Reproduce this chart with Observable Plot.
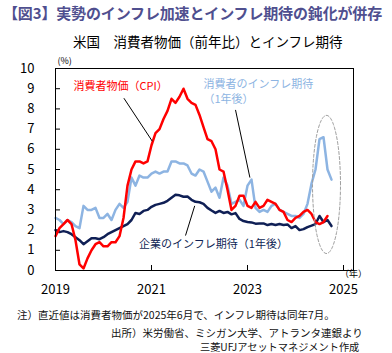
<!DOCTYPE html>
<html><head><meta charset="utf-8">
<script src="https://cdn.jsdelivr.net/npm/d3@7"></script>
<script src="https://cdn.jsdelivr.net/npm/@observablehq/plot@0.6"></script>
<style>
body{margin:0;width:392px;height:353px;position:relative;background:#fff;font-family:"Noto Sans CJK JP",sans-serif;overflow:hidden}
.t{position:absolute;white-space:nowrap;line-height:1}
#title{left:3px;top:5px;font-size:15px;font-weight:bold;color:#4f4f8f;letter-spacing:-0.15px}
#sub{left:73px;top:35px;font-size:13.5px;color:#000}
#chart{position:absolute;left:0;top:50px}
.fn{font-size:10.5px;color:#111}
#n1{left:17px;top:310px}
#n2{left:111px;top:328px}
#n3{left:200px;top:342px;font-size:10.2px}
</style></head>
<body>
<div class="t" id="title">【図3】実勢のインフレ加速とインフレ期待の鈍化が併存</div>
<div class="t" id="sub">米国　消費者物価（前年比）とインフレ期待</div>
<div id="chart"></div>
<div class="t fn" id="n1">注）直近値は消費者物価が2025年6月で、インフレ期待は同年7月。</div>
<div class="t fn" id="n2">出所）米労働省、ミシガン大学、アトランタ連銀より</div>
<div class="t fn" id="n3">三菱UFJアセットマネジメント作成</div>
<script>
// Monthly data, index 0 = 2019-10
const startMonth = "2019-10";
const cpi = [1.7,2.1,2.3,2.5,2.3,1.5,0.3,0.1,0.6,1.0,
  1.3,1.4,1.2,1.2,1.4,1.4,1.7,2.6,4.2,5.0,
  5.4,5.4,5.3,5.4,6.2,6.8,7.0,7.5,7.9,8.5,
  8.3,8.6,9.0,8.5,8.3,8.2,7.7,7.1,6.5,6.4,
  6.0,5.0,4.9,4.0,3.0,3.2,3.7,3.7,3.2,3.1,
  3.4,3.1,3.2,3.5,3.4,3.3,3.0,2.9,2.5,2.4,
  2.6,2.7,2.9,3.0,2.8,2.4,2.3,2.4,2.7];
const consumerExp = [2.6,2.5,2.3,2.5,2.4,2.2,2.1,3.2,3.0,3.0,
  3.1,2.6,2.6,2.8,2.5,3.0,3.3,3.1,3.4,4.6,
  4.2,4.7,4.6,4.6,4.8,4.9,4.8,4.9,4.9,5.4,
  5.4,5.3,5.3,5.2,4.8,4.7,5.0,4.9,4.4,3.9,
  4.1,3.6,4.6,4.2,3.3,3.4,3.5,3.2,4.2,4.5,
  3.1,2.9,3.0,2.9,3.2,3.3,3.0,2.9,2.8,2.7,
  2.7,2.6,2.8,3.3,4.3,5.0,6.5,6.6,5.0,4.5];
const businessExp = [2.0,1.9,1.95,1.9,1.8,1.65,1.5,1.3,1.45,1.6,
  1.6,1.55,1.65,1.8,1.9,2.0,2.1,2.2,2.3,2.5,
  2.85,2.8,2.95,3.0,3.15,3.25,3.3,3.35,3.45,3.6,
  3.75,3.72,3.65,3.66,3.5,3.4,3.38,3.3,3.1,2.97,
  2.85,2.95,2.85,2.9,2.78,2.84,2.55,2.45,2.4,2.38,
  2.32,2.33,2.33,2.25,2.3,2.25,2.3,2.25,2.28,2.1,
  2.2,2.0,2.05,2.15,2.22,2.3,2.7,2.4,2.5,2.2];
const xTickIndex = [0,24,48,72];
const xTickLabels = ["2019","2021","2023","2025"];
const yTicks = [0,1,2,3,4,5,6,7,8,9,10];
const colors = {cpi:"#ff0000", consumer:"#8db4e2", business:"#0f1f55"};
// annotations (data coordinates: month index, %)
const centeredLabels = [
  {i:16.3, v:9.1, text:"消費者物価（CPI）", color:colors.cpi},
  {i:39.5, v:1.27, text:"企業のインフレ期待（1年後）", color:colors.business}
];
const startLabels = [
  {i:37.0, v:9.2, text:"消費者のインフレ期待", color:colors.consumer},
  {i:37.0, v:8.45, text:"（1年後）", color:colors.consumer}
];
const arrows = [
  {i1:17.1, v1:8.53, i2:24.2, v2:6.4},
  {i1:45.0, v1:7.95, i2:48.6, v2:4.6},
  {i1:32.5, v1:1.73, i2:34.8, v2:3.2}
];
const ellipse = {cx:67.75, cy:4.26, rx:3.5, ry:3.42};

const toRows = arr => arr.map((v,i)=>({i, v}));
const ellPts = d3.range(0, 361, 4).map(a => ({
  i: ellipse.cx + ellipse.rx*Math.cos(a*Math.PI/180),
  v: ellipse.cy + ellipse.ry*Math.sin(a*Math.PI/180)}));

const chart = Plot.plot({
  width:392, height:250,
  marginTop:18, marginRight:39, marginBottom:30, marginLeft:55,
  style:{fontFamily:'"Noto Sans CJK JP", sans-serif', fontSize:"13px", background:"transparent", color:"#000"},
  x:{domain:[0,74.5]},
  y:{domain:[0,10]},
  marks:[
    Plot.axisY({ticks:yTicks, tickSize:0, tickPadding:21, fontSize:13, label:null, tickFormat:d=>String(d)}),
    Plot.axisY({ticks:yTicks, tickSize:-5, tickFormat:()=> null, label:null}),
    Plot.axisX({ticks:xTickIndex, tickSize:0, tickPadding:14, fontSize:13, label:null,
      tickFormat:d=>xTickLabels[xTickIndex.indexOf(d)]}),
    Plot.axisX({ticks:xTickIndex, tickSize:-5, tickFormat:()=> null, label:null}),
    Plot.line(toRows(consumerExp), {x:"i", y:"v", stroke:colors.consumer, strokeWidth:2.5}),
    Plot.line(toRows(businessExp), {x:"i", y:"v", stroke:colors.business, strokeWidth:2.5}),
    Plot.line(toRows(cpi), {x:"i", y:"v", stroke:colors.cpi, strokeWidth:2.5}),
    Plot.line(ellPts, {x:"i", y:"v", stroke:"#a0a0a0", strokeWidth:1, strokeDasharray:"3,2"}),
    Plot.link(arrows, {x1:"i1", y1:"v1", x2:"i2", y2:"v2", stroke:"#000", strokeWidth:1, ariaLabel:"arrow-link"}),
    Plot.text(centeredLabels, {x:"i", y:"v", text:"text", fill:"color", textAnchor:"middle", fontSize:11}),
    Plot.text(startLabels, {x:"i", y:"v", text:"text", fill:"color", textAnchor:"start", fontSize:11}),
    Plot.text(["(%)"], {frameAnchor:"top-left", text:d=>d, dx:2, dy:-11, fontSize:9, textAnchor:"start"}),
    Plot.text(["（年）"], {frameAnchor:"bottom-right", text:d=>d, dx:0, dy:6, fontSize:9, textAnchor:"middle"}),
    Plot.frame({stroke:"#000", strokeWidth:1})
  ]
});
const ns = "http://www.w3.org/2000/svg";
const defs = document.createElementNS(ns, "defs");
defs.innerHTML = '<marker id="ah" viewBox="0 0 9 7" refX="8" refY="3.5" markerWidth="9" markerHeight="7" markerUnits="userSpaceOnUse" orient="auto"><path d="M0,0L9,3.5L0,7z" fill="#000"/></marker>';
chart.insertBefore(defs, chart.firstChild);
chart.querySelectorAll('g[aria-label="arrow-link"] path').forEach(p => p.setAttribute("marker-end", "url(#ah)"));
document.getElementById("chart").appendChild(chart);
</script>
</body></html>
